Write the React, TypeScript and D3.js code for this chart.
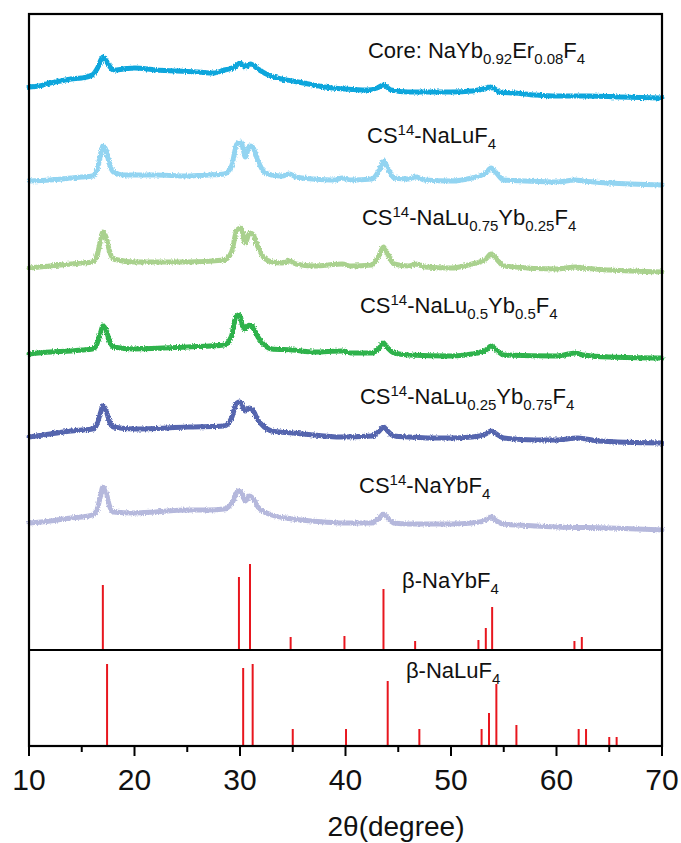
import React from "react";
import * as d3 from "d3";

// ---- Data ----
// XRD patterns: [2θ (degree), relative intensity above each trace's end baseline]
const coreTrace: [number, number][] = [
  [10, 11], [11, 12], [12, 15], [13, 17], [14, 19], [15, 20], [16, 23], [16.5, 30], [17, 41], [17.5, 34],
  [18, 28], [19, 29], [20, 30], [22, 28], [24, 27], [26, 26], [27.5, 25], [28.5, 28], [29.5, 31], [30, 35],
  [30.5, 31], [31, 34], [31.7, 29], [32.5, 24], [33.5, 20], [35, 17], [36.5, 14], [38, 11], [40, 9], [42, 8],
  [43, 10], [43.6, 13], [44.3, 8], [46, 6], [48, 6], [50, 6], [52, 7], [53, 9], [53.8, 11], [54.6, 6],
  [56, 5], [58, 3], [60, 2], [63, 2], [66, 1], [70, 0],
];
const naLuTrace: [number, number][] = [
  [10, 4], [12, 5], [14, 7], [15, 8], [16, 9], [16.4, 14], [16.8, 31], [17, 39], [17.3, 35], [17.6, 22], [18, 13],
  [19, 10], [20, 10], [22, 10], [25, 9], [27, 10], [28.5, 11], [29.2, 19], [29.7, 41], [30.1, 43], [30.5, 28],
  [30.9, 39], [31.2, 38], [31.7, 24], [32.3, 13], [33, 10], [34, 9], [34.7, 11], [35.3, 8], [37, 6], [39, 5],
  [39.7, 7], [40.5, 5], [42.5, 6], [43.2, 15], [43.6, 24], [44, 17], [44.6, 7], [46, 6], [46.7, 8], [47.5, 5],
  [50, 4], [52, 7], [52.7, 9], [53.3, 12], [53.8, 17], [54.3, 12], [55, 5], [57, 4], [60, 3], [61.8, 5],
  [62.5, 4], [65, 2], [70, 0],
];
const lu75Trace: [number, number][] = [
  [10, 4], [12, 6], [14, 8], [15, 9], [16, 10], [16.4, 15], [16.8, 32], [17, 40], [17.3, 35], [17.6, 22], [18, 13],
  [20, 10], [25, 10], [28.5, 12], [29.2, 20], [29.7, 42], [30.1, 44], [30.5, 29], [30.9, 39], [31.2, 38], [31.7, 25],
  [32.3, 14], [33, 10], [34, 9], [34.7, 11], [35.3, 8], [37, 6], [39.7, 8], [40.5, 6], [42.5, 7], [43.2, 17],
  [43.6, 25], [44, 18], [44.6, 8], [46, 6], [46.7, 8], [47.5, 5], [50, 4], [52, 8], [52.7, 10], [53.3, 13],
  [53.8, 18], [54.3, 13], [55, 6], [60, 3], [61.8, 5], [62.5, 4], [65, 2], [70, 0],
];
const lu50Trace: [number, number][] = [
  [10, 4], [12, 6], [14, 7], [15, 8], [16, 9], [16.4, 13], [16.8, 26], [17, 32], [17.3, 28], [17.6, 18], [18, 11],
  [20, 9], [25, 11], [28.5, 13], [29.2, 22], [29.6, 41], [29.9, 43], [30.4, 29], [30.9, 33], [31.2, 31], [31.7, 21],
  [32.3, 13], [33, 9], [35, 8], [37, 6], [39.7, 7], [40.5, 5], [42.5, 5], [43.2, 10], [43.6, 15], [44, 10],
  [44.6, 5], [46, 3], [50, 2], [52, 4], [53.3, 8], [53.8, 12], [54.3, 8], [55, 3], [60, 2], [61.8, 5],
  [62.5, 3], [65, 1], [70, 0],
];
const lu25Trace: [number, number][] = [
  [10, 6], [12, 9], [14, 12], [15, 13], [16, 14], [16.4, 18], [16.8, 31], [17, 37], [17.3, 33], [17.6, 22], [18, 16],
  [20, 14], [25, 16], [28.5, 17], [29.2, 25], [29.7, 40], [30, 41], [30.5, 32], [30.9, 35], [31.2, 33], [31.7, 23],
  [32.3, 16], [33, 12], [35, 10], [37, 8], [39.5, 6], [42.5, 7], [43.2, 12], [43.6, 16], [44, 12], [44.6, 7],
  [46, 6], [48, 5], [50, 5], [52, 6], [53.3, 9], [53.8, 12], [54.3, 9], [55, 5], [58, 3], [60, 3],
  [62, 5], [64, 2], [70, 0],
];
const ybTrace: [number, number][] = [
  [10, 7], [12, 9], [14, 12], [15, 13], [16, 15], [16.4, 19], [16.8, 35], [17, 43], [17.3, 38], [17.6, 25], [18, 18],
  [20, 17], [22, 18], [25, 20], [27, 20], [28.5, 21], [29.3, 28], [29.8, 39], [30.1, 38], [30.5, 29], [30.9, 34],
  [31.2, 32], [31.7, 23], [32.3, 18], [33, 15], [35, 11], [38, 8], [40, 7], [42.5, 7], [43.2, 12], [43.6, 16],
  [44, 12], [44.6, 7], [46, 6], [48, 6], [50, 6], [52, 7], [53.3, 10], [53.8, 13], [54.3, 9], [55, 6],
  [58, 4], [60, 3], [65, 2], [70, 0],
];

const traceNames = ["core", "NaLuF4", "Lu0.75Yb0.25", "Lu0.5Yb0.5", "Lu0.25Yb0.75", "NaYbF4"];
const traceData = [coreTrace, naLuTrace, lu75Trace, lu50Trace, lu25Trace, ybTrace];
const traceOffsets = [648, 561, 474, 388, 303, 216];
const traceColors = ["#0fa6dc", "#92d4f1", "#a9d18e", "#2fb24c", "#5565ae", "#b5b8dc"];

// Reference patterns: [2θ, relative intensity]
const ybRefPeaks: [number, number][] = [
  [17.0, 65], [29.9, 73], [30.95, 86], [34.8, 13], [39.9, 14], [43.6, 61], [46.6, 9], [52.6, 10],
  [53.3, 22], [53.9, 43], [61.7, 9], [62.4, 13],
];
const luRefPeaks: [number, number][] = [
  [17.4, 82], [30.3, 78], [31.2, 82], [35.0, 17], [40.05, 17], [44.0, 65], [47.0, 17], [52.9, 17],
  [53.6, 33], [54.3, 62], [56.2, 21], [62.1, 17], [62.8, 17], [65.0, 9], [65.7, 9],
];
const ybRefBase = 96;
const luRefBase = 0;

const xTicks = [10, 20, 30, 40, 50, 60, 70];
const xMinorTicks = [15, 25, 35, 45, 55, 65];
const xTitle = "2θ(degree)";

type Seg = { t: string; k?: "sub" | "sup" };
const labels: { segs: Seg[]; x: number; y: number }[] = [
  { segs: [{ t: "Core: NaYb" }, { t: "0.92", k: "sub" }, { t: "Er" }, { t: "0.08", k: "sub" }, { t: "F" }, { t: "4", k: "sub" }], x: 42.13, y: 688 },
  { segs: [{ t: "CS" }, { t: "14", k: "sup" }, { t: "-NaLuF" }, { t: "4", k: "sub" }], x: 42.04, y: 603 },
  { segs: [{ t: "CS" }, { t: "14", k: "sup" }, { t: "-NaLu" }, { t: "0.75", k: "sub" }, { t: "Yb" }, { t: "0.25", k: "sub" }, { t: "F" }, { t: "4", k: "sub" }], x: 41.56, y: 521 },
  { segs: [{ t: "CS" }, { t: "14", k: "sup" }, { t: "-NaLu" }, { t: "0.5", k: "sub" }, { t: "Yb" }, { t: "0.5", k: "sub" }, { t: "F" }, { t: "4", k: "sub" }], x: 41.37, y: 433 },
  { segs: [{ t: "CS" }, { t: "14", k: "sup" }, { t: "-NaLu" }, { t: "0.25", k: "sub" }, { t: "Yb" }, { t: "0.75", k: "sub" }, { t: "F" }, { t: "4", k: "sub" }], x: 41.37, y: 342 },
  { segs: [{ t: "CS" }, { t: "14", k: "sup" }, { t: "-NaYbF" }, { t: "4", k: "sub" }], x: 41.28, y: 253 },
  { segs: [{ t: "β-NaYbF" }, { t: "4", k: "sub" }], x: 45.36, y: 158 },
  { segs: [{ t: "β-NaLuF" }, { t: "4", k: "sub" }], x: 45.73, y: 68 },
];

// ---- Layout ----
const W = 681;
const H = 843;
const left = 29;
const right = 662;
const top = 14;
const bottom = 746;
const FONT = "'Liberation Sans', Arial, Helvetica, sans-serif";

function RichText({ segs, x, y }: { segs: Seg[]; x: number; y: number }) {
  let state: string = "base";
  const offsetFor = (st: string) => (st === "sub" ? 6 : st === "sup" ? -8 : 0);
  const children: React.ReactNode[] = [];
  segs.forEach((s, i) => {
    const k = s.k ?? "base";
    const dy = offsetFor(k) - offsetFor(state);
    state = k;
    children.push(
      <tspan key={i} dy={dy} fontSize={k === "base" ? 22 : 15}>
        {s.t}
      </tspan>
    );
  });
  return (
    <text x={x} y={y} fontFamily={FONT} fill="#111">
      {children}
    </text>
  );
}

export default function App() {
  const x = d3.scaleLinear().domain([10, 70]).range([left, right]);
  const y = d3.scaleLinear().domain([0, 732]).range([bottom, top]);

  const line = d3
    .line<[number, number]>()
    .x((d) => x(d[0]))
    .y((d) => y(d[1]))
    .curve(d3.curveMonotoneX);

  return (
    <svg width={W} height={H} style={{ position: "absolute", left: 0, top: 0, background: "#fff" }}>
      <defs>
        <filter id="rough" x="-5%" y="-20%" width="110%" height="140%">
          <feTurbulence type="fractalNoise" baseFrequency="0.9 0.5" numOctaves={2} seed={3} result="n" />
          <feDisplacementMap in="SourceGraphic" in2="n" scale={3.5} xChannelSelector="R" yChannelSelector="G" />
        </filter>
      </defs>
      <rect x={0} y={0} width={W} height={H} fill="#fff" />
      {traceData.map((tr, i) => (
        <path
          key={traceNames[i]}
          d={line(tr.map((p) => [p[0], p[1] + traceOffsets[i]] as [number, number])) ?? ""}
          fill="none"
          stroke={traceColors[i]}
          strokeWidth={5}
          strokeLinejoin="round"
          strokeLinecap="round"
          filter="url(#rough)"
        />
      ))}
      {ybRefPeaks.map((p, i) => (
        <line key={"yb" + i} x1={x(p[0])} x2={x(p[0])} y1={y(ybRefBase)} y2={y(ybRefBase + p[1])} stroke="#e8161e" strokeWidth={2} />
      ))}
      {luRefPeaks.map((p, i) => (
        <line key={"lu" + i} x1={x(p[0])} x2={x(p[0])} y1={y(luRefBase)} y2={y(luRefBase + p[1])} stroke="#e8161e" strokeWidth={2} />
      ))}
      {/* separator between reference panels */}
      <line x1={left} x2={right} y1={y(ybRefBase)} y2={y(ybRefBase)} stroke="#000" strokeWidth={2} />
      {/* frame */}
      <rect x={left} y={top} width={right - left} height={bottom - top} fill="none" stroke="#000" strokeWidth={2.2} />
      {/* x ticks */}
      {xTicks.map((t) => (
        <g key={"t" + t}>
          <line x1={x(t)} x2={x(t)} y1={bottom} y2={bottom + 10} stroke="#000" strokeWidth={2} />
          <text x={x(t)} y={790} textAnchor="middle" fontSize={30} fontFamily={FONT} fill="#111">
            {t}
          </text>
        </g>
      ))}
      {xMinorTicks.map((t) => (
        <line key={"m" + t} x1={x(t)} x2={x(t)} y1={bottom} y2={bottom + 6} stroke="#000" strokeWidth={2} />
      ))}
      <text x={396} y={836} textAnchor="middle" fontSize={28} fontFamily={FONT} fill="#111">
        {xTitle}
      </text>
      {labels.map((l, i) => (
        <RichText key={i} segs={l.segs} x={x(l.x)} y={y(l.y)} />
      ))}
    </svg>
  );
}
